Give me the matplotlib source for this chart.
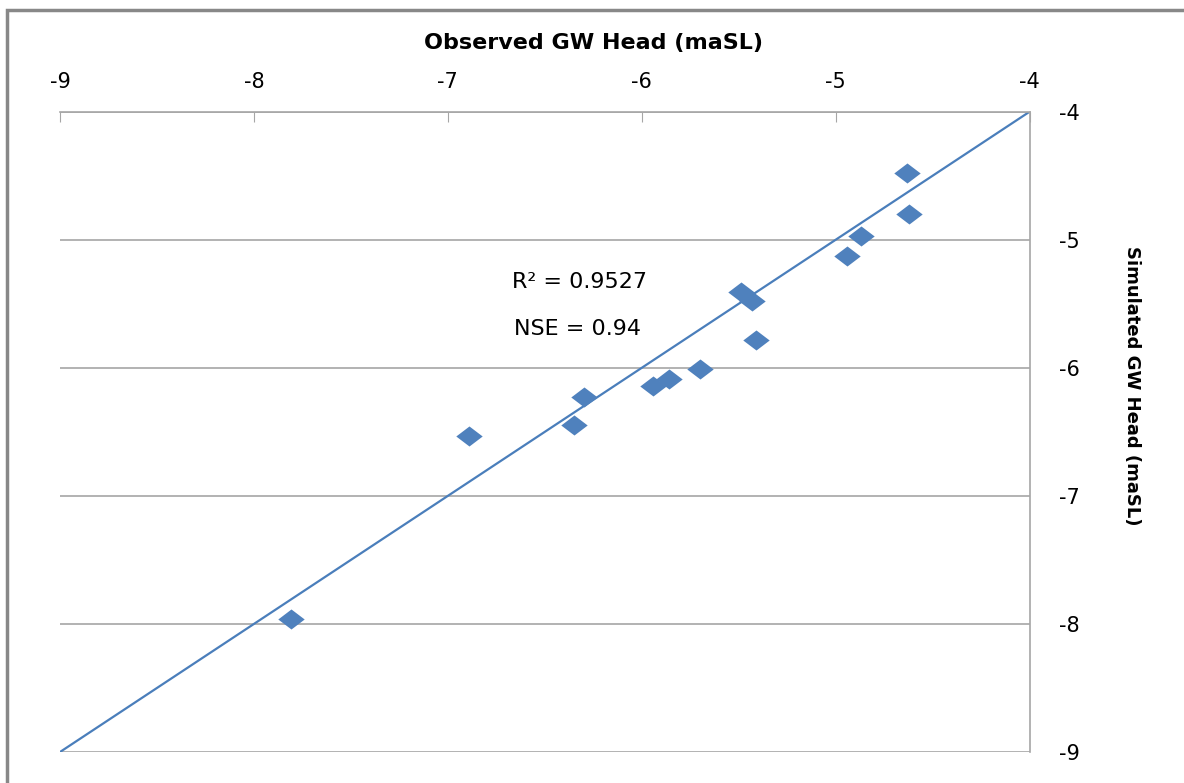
import matplotlib.pyplot as plt
from matplotlib.patches import Rectangle
from matplotlib.path import Path

plt.rcParams['axes.unicode_minus'] = False

# observed vs simulated heads (maSL)
observed = [-7.81, -6.89, -6.35, -6.30, -5.94, -5.86, -5.70, -5.49, -5.43, -5.41, -4.94, -4.87, -4.63, -4.62]
simulated = [-7.96, -6.53, -6.45, -6.23, -6.14, -6.09, -6.01, -5.41, -5.48, -5.78, -5.13, -4.97, -4.48, -4.80]
ticks = [-9, -8, -7, -6, -5, -4]
one_to_one = [-9, -4]

blue = '#4F81BD'
grid = '#A6A6A6'

# excel-like flattened diamond
diamond = Path([(-1, 0), (0, 0.76), (1, 0), (0, -0.76), (-1, 0)],
               [Path.MOVETO, Path.LINETO, Path.LINETO, Path.LINETO, Path.CLOSEPOLY])

fig = plt.figure(figsize=(11.84, 7.83), dpi=100)
# outer chart frame
fig.patches.append(Rectangle((7 / 1184, -0.1), 1.2, 1 - 10 / 783 + 0.1, transform=fig.transFigure,
                             fill=False, edgecolor='#888888', lw=2.5))

ax = fig.add_axes([60 / 1184, 1 - 752 / 783, (1029.6 - 60) / 1184, (752 - 111.7) / 783])
ax.set_xlim(-9, -4)
ax.set_ylim(-9, -4)

ax.plot(one_to_one, one_to_one, color='#4A7EBB', lw=1.6, zorder=2)
ax.plot(observed, simulated, ls='none', marker=diamond, ms=19, color=blue, mec='none', zorder=3)

ax.set_xticks(ticks)
ax.set_yticks(ticks)
ax.xaxis.tick_top()
ax.yaxis.tick_right()
ax.xaxis.set_label_position('top')
ax.yaxis.set_label_position('right')
ax.tick_params(axis='x', direction='in', length=7, color=grid, labelsize=15, pad=14)
ax.tick_params(axis='y', length=0, labelsize=15, pad=21)
ax.grid(axis='y', color=grid, lw=1.2)

for s in ['left', 'bottom']:
    ax.spines[s].set_visible(False)
for s in ['top', 'right']:
    ax.spines[s].set_color(grid)
    ax.spines[s].set_linewidth(1.2)

ax.set_xlabel('Observed GW Head (maSL)', fontsize=16, fontweight='bold', va='center', ha='center')
ax.xaxis.set_label_coords((593 - 60) / 969.6, 1 + (111.7 - 43) / 640.3)
ax.set_ylabel('Simulated GW Head (maSL)', fontsize=13, fontweight='bold', rotation=-90,
              va='center', ha='center')
ax.yaxis.set_label_coords((1132 - 60) / 969.6, 1 - (386 - 111.7) / 640.3)

ax.text(-6.32, -5.33, 'R² = 0.9527', fontsize=16, ha='center', va='center')
ax.text(-6.33, -5.70, 'NSE = 0.94', fontsize=16, ha='center', va='center')

fig.savefig('out.png', dpi=100)
